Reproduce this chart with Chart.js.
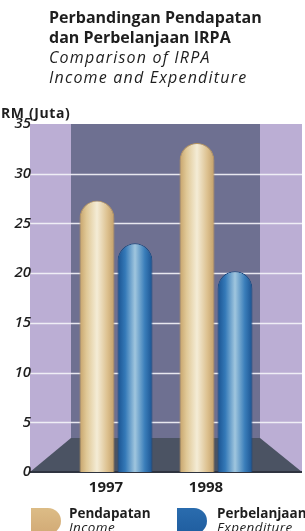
<!DOCTYPE html>
<html>
<head>
<meta charset="utf-8">
<script src="https://cdn.jsdelivr.net/npm/chart.js@4/dist/chart.umd.min.js"></script>
<style>
    html, body { margin: 0; padding: 0; background: #fff; }
    body { width: 305px; height: 531px; position: relative; overflow: hidden; font-family: "Open Sans", sans-serif; color: #1e1e1e; }
    #box { position: absolute; left: 0; top: 0; width: 305px; height: 531px; }
    .title { position: absolute; left: 49px; top: 7px; font-size: 16px; line-height: 20px; }
    .title b { font-weight: 700; }
    .title i { font-style: italic; letter-spacing: 1.2px; }
    .unit { position: absolute; left: 1px; top: 103px; font-size: 14px; font-weight: 700; letter-spacing: 0.6px; }
    .leg { position: absolute; top: 507px; }
    .sw { position: absolute; top: 1px; width: 30px; height: 26px; border-radius: 0 13px 13px 0; }
    .lt { position: absolute; top: -1px; font-size: 13.5px; line-height: 14px; white-space: nowrap; }
    .lt b { font-weight: 700; }
    .lt i { font-style: italic; letter-spacing: 0.4px; }
</style>
</head>
<body>
<div id="box"><canvas id="irpaChart"></canvas></div>

<div class="title">
    <b>Perbandingan Pendapatan</b><br>
    <b>dan Perbelanjaan IRPA</b><br>
    <i>Comparison of IRPA</i><br>
    <i>Income and Expenditure</i>
</div>
<div class="unit">RM (Juta)</div>

<div class="leg" style="left:31px">
    <div class="sw" style="background:linear-gradient(#dcbc86,#d2aa76)"></div>
    <div class="lt" style="left:38px"><b>Pendapatan</b><br><i>Income</i></div>
</div>
<div class="leg" style="left:177px">
    <div class="sw" style="background:linear-gradient(#2a6cae,#1f5d9f)"></div>
    <div class="lt" style="left:40px"><b>Perbelanjaan</b><br><i>Expenditure</i></div>
</div>

<script>
const years = ["1997", "1998"];
const income = [27.3, 33.1];      // Pendapatan
const expenditure = [23.0, 20.2]; // Perbelanjaan
const yTicks = [0, 5, 10, 15, 20, 25, 30, 35];

// walls, floor and the long white grid lines
const roomPlugin = {
    id: "room",
    beforeDraw(chart) {
        const ctx = chart.ctx;
        const ca = chart.chartArea;
        const ys = chart.scales.y;
        const y0 = ys.getPixelForValue(0);
        const yTop = ys.getPixelForValue(35);
        const L = ca.left - 36, R = ca.right + 36;
        const bl = ca.left + 5, br = ca.right - 6;
        const fy = y0 - 34;

        ctx.save();
        ctx.fillStyle = "#bbaed4";
        ctx.fillRect(L, yTop, R - L, y0 - yTop);
        ctx.fillStyle = "#6e7091";
        ctx.fillRect(bl, yTop, br - bl, fy - yTop);

        ctx.fillStyle = "#4b5363";
        ctx.beginPath();
        ctx.moveTo(L, y0);
        ctx.lineTo(bl, fy);
        ctx.lineTo(br, fy);
        ctx.lineTo(R, y0);
        ctx.closePath();
        ctx.fill();

        ctx.strokeStyle = "rgba(245,245,250,0.9)";
        ctx.lineWidth = 1.5;
        yTicks.forEach((v) => {
            if (v === 0 || v === 35) return;
            const y = Math.round(ys.getPixelForValue(v)) + 0.5;
            ctx.beginPath();
            ctx.moveTo(L, y);
            ctx.lineTo(R, y);
            ctx.stroke();
        });

        ctx.strokeStyle = "#2f3440";
        ctx.lineWidth = 2;
        ctx.beginPath();
        ctx.moveTo(L, y0);
        ctx.lineTo(R, y0);
        ctx.stroke();
        ctx.restore();
    },
    beforeDatasetsDraw(chart) {
        const ctx = chart.ctx;
        const stops = [
            [[0, "#c6a36b"], [0.2, "#e0c896"], [0.5, "#f4ecd6"], [0.8, "#dcc08e"], [1, "#c29f69"]],
            [[0, "#1a5290"], [0.22, "#3479b8"], [0.5, "#a0c6de"], [0.78, "#3a7eba"], [1, "#1a5290"]],
        ];
        chart.data.datasets.forEach((ds, i) => {
            chart.getDatasetMeta(i).data.forEach((bar) => {
                const g = ctx.createLinearGradient(bar.x - bar.width / 2, 0, bar.x + bar.width / 2, 0);
                stops[i].forEach((s) => g.addColorStop(s[0], s[1]));
                bar.options.backgroundColor = g;
            });
        });
    },
};

new Chart(document.getElementById("irpaChart"), {
    type: "bar",
    data: {
        labels: years,
        datasets: [
            {
                label: "Pendapatan / Income",
                data: income,
                backgroundColor: () => "#e0c896",
                borderColor: "#b8955e",
                borderWidth: 1,
                borderRadius: { topLeft: 18, topRight: 18, bottomLeft: 0, bottomRight: 0 },
                borderSkipped: "bottom",
                categoryPercentage: 0.76,
                barPercentage: 0.92,
            },
            {
                label: "Perbelanjaan / Expenditure",
                data: expenditure,
                backgroundColor: () => "#3479b8",
                borderColor: "#184a82",
                borderWidth: 1,
                borderRadius: { topLeft: 18, topRight: 18, bottomLeft: 0, bottomRight: 0 },
                borderSkipped: "bottom",
                categoryPercentage: 0.76,
                barPercentage: 0.92,
            },
        ],
    },
    options: {
        responsive: true,
        maintainAspectRatio: false,
        animation: false,
        layout: {
            padding: { left: 0, right: 39, top: 124, bottom: 39 },
        },
        plugins: {
            legend: { display: false },
            tooltip: { enabled: false },
        },
        scales: {
            x: {
                grid: { display: false, drawTicks: false },
                border: { display: false },
                ticks: {
                    padding: 7,
                    labelOffset: -10,
                    color: "#1e1e1e",
                    font: { family: "Open Sans", size: 15, weight: "bold" },
                },
                afterFit(s) { s.height = 20; },
            },
            y: {
                min: 0,
                max: 35,
                grid: { display: false, drawTicks: false },
                border: { display: false },
                afterBuildTicks(s) { s.ticks = yTicks.map((v) => ({ value: v })); },
                ticks: {
                    padding: 35,
                    color: "#1e1e1e",
                    font: { family: "Open Sans", size: 15, style: "italic", weight: "600" },
                },
                afterFit(s) { s.width = 66; },
            },
        },
    },
    plugins: [roomPlugin],
});
</script>
</body>
</html>
